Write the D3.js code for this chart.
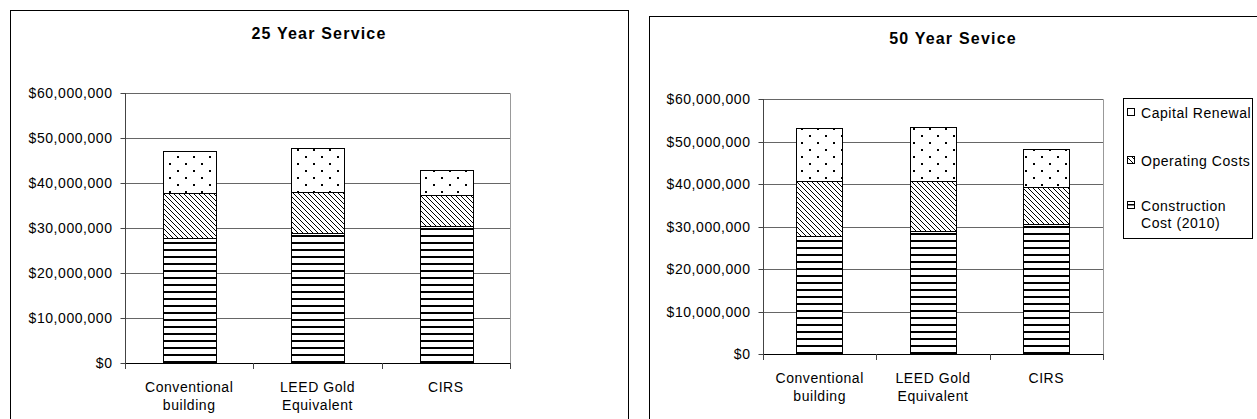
<!DOCTYPE html>
<html><head><meta charset="utf-8">
<script src="https://cdn.jsdelivr.net/npm/d3@7"></script>
<style>
body{margin:0;background:#fff}
svg text{font-family:"Liberation Sans",Arial,sans-serif;fill:#000}
</style>
</head><body>
<svg id="c" width="1257" height="419"></svg>
<script>
// ---- data ----
const categories = [["Conventional","building"],["LEED Gold","Equivalent"],["CIRS"]];
const seriesNames = ["Construction Cost (2010)","Operating Costs","Capital Renewal"];
const legendLabels = [["Capital Renewal"],["Operating Costs"],["Construction","Cost (2010)"]];
const construction25 = [27.8e6, 28.9e6, 30.5e6];
const operating25   = [10.0e6, 9.1e6, 6.8e6];
const capital25     = [9.3e6, 9.7e6, 5.6e6];
const construction50 = [27.8e6, 28.9e6, 30.5e6];
const operating50   = [12.8e6, 11.8e6, 8.8e6];
const capital50     = [12.5e6, 12.7e6, 9.0e6];
const yTicks = [0, 10e6, 20e6, 30e6, 40e6, 50e6, 60e6];
const titles = ["25 Year Service", "50 Year Sevice"];

const svg = d3.select("#c");
const defs = svg.append("defs");
const fmt = d3.format("$,");
const FS = "14px", LS = "0.55px";

function makePatterns(id, baseY){
  const h = defs.append("pattern").attr("id","hl"+id).attr("patternUnits","userSpaceOnUse")
    .attr("width",8).attr("height",7).attr("patternTransform",`translate(0,${baseY%7})`);
  h.append("rect").attr("width",8).attr("height",7).attr("fill","#fff");
  h.append("rect").attr("y",5).attr("width",8).attr("height",2).attr("fill","#000");
  const d = defs.append("pattern").attr("id","dg"+id).attr("patternUnits","userSpaceOnUse")
    .attr("width",5).attr("height",5);
  d.append("rect").attr("width",5).attr("height",5).attr("fill","#fff");
  [0,1,2,3,4].forEach(i=>d.append("rect").attr("x",i).attr("y",i).attr("width",1).attr("height",1).attr("fill","#000"));
  const p = defs.append("pattern").attr("id","dt"+id).attr("patternUnits","userSpaceOnUse")
    .attr("width",16).attr("height",14).attr("patternTransform","translate(1,2)");
  p.append("rect").attr("width",16).attr("height",14).attr("fill","#fff");
  p.append("rect").attr("x",0).attr("y",0).attr("width",2).attr("height",2).attr("fill","#000");
  p.append("rect").attr("x",8).attr("y",7).attr("width",2).attr("height",2).attr("fill","#000");
}

function drawChart(cfg){
  const {id, frame, plot, title, titlePos, series} = cfg;
  makePatterns(id, plot.y1);
  const g = svg.append("g");
  g.append("rect").attr("x",frame.x+0.5).attr("y",frame.y+0.5).attr("width",frame.w).attr("height",frame.h)
    .attr("fill","#fff").attr("stroke","#000").attr("stroke-width",1);
  g.append("text").attr("x",titlePos[0]).attr("y",titlePos[1]).attr("text-anchor","middle")
    .style("font-size","16px").style("font-weight","bold").style("letter-spacing","1.2px").text(title);

  const x = d3.scaleBand().domain(d3.range(categories.length)).range([plot.x0, plot.x1])
    .paddingInner(0.59).paddingOuter(0.295);
  const y = d3.scaleLinear().domain([0, 60e6]).range([plot.y1, plot.y0]);

  g.append("path").attr("d",`M${plot.x0},${plot.y0+0.5}H${plot.x1+0.5}V${plot.y1}`)
    .attr("fill","none").attr("stroke","#999");
  g.selectAll(".grid").data(yTicks.slice(1)).enter().append("line")
    .attr("x1",plot.x0).attr("x2",plot.x1).attr("y1",d=>Math.round(y(d))+0.5).attr("y2",d=>Math.round(y(d))+0.5)
    .attr("stroke","#666");

  const fills = ["hl"+id, "dg"+id, "dt"+id];
  const stackData = categories.map((c,i)=>({i, a:series[0][i], b:series[1][i], c:series[2][i]}));
  const stack = d3.stack().keys(["a","b","c"])(stackData);
  stack.forEach((layer,k)=>{
    g.selectAll(".s"+k).data(layer).enter().append("rect")
      .attr("x",d=>Math.round(x(d.data.i))+0.5)
      .attr("width",Math.round(x.bandwidth()))
      .attr("y",d=>Math.round(y(d[1]))+0.5)
      .attr("height",d=>Math.round(y(d[0]))-Math.round(y(d[1])))
      .attr("fill",`url(#${fills[k]})`)
      .attr("stroke", "#000").attr("stroke-width",1);
  });

  const ya = g.append("g").attr("transform",`translate(${plot.x0+0.5},0)`)
    .call(d3.axisLeft(y).tickValues(yTicks).tickFormat(fmt).tickSize(5).tickPadding(8));
  ya.select(".domain").attr("stroke","#444").attr("d",`M0,${plot.y0}V${plot.y1+0.5}`);
  ya.selectAll(".tick line").attr("stroke","#444");
  ya.selectAll(".tick").attr("transform",d=>`translate(0,${Math.round(y(d))+0.5})`);
  ya.selectAll("text").style("font-size",FS).style("letter-spacing",LS)
    .style("font-family","'Liberation Sans',Arial,sans-serif").attr("fill","#000");

  g.append("line").attr("x1",plot.x0).attr("x2",plot.x1+1).attr("y1",plot.y1+0.5).attr("y2",plot.y1+0.5).attr("stroke","#000");
  const bounds = d3.range(categories.length+1).map(i=>plot.x0 + i*x.step());
  g.selectAll(".xt").data(bounds).enter().append("line")
    .attr("x1",d=>Math.round(d)+0.5).attr("x2",d=>Math.round(d)+0.5)
    .attr("y1",plot.y1).attr("y2",plot.y1+6).attr("stroke","#444");
  const lbl = g.selectAll(".xl").data(categories).enter().append("text")
    .attr("text-anchor","middle").style("font-size",FS).style("letter-spacing",LS)
    .attr("transform",(d,i)=>`translate(${x(i)+x.bandwidth()/2},${plot.y1+29})`);
  lbl.selectAll("tspan").data(d=>d).enter().append("tspan")
    .attr("x",0).attr("dy",(d,j)=>j===0?0:18).text(d=>d);

  return {x,y};
}

drawChart({id:"a", frame:{x:10,y:10,w:618,h:430}, plot:{x0:125,x1:510,y0:93,y1:363},
  title:titles[0], titlePos:[319,39], series:[construction25, operating25, capital25]});
drawChart({id:"b", frame:{x:649,y:16,w:640,h:430}, plot:{x0:763,x1:1103,y0:99,y1:354},
  title:titles[1], titlePos:[953,44], series:[construction50, operating50, capital50]});

// legend
const lg = svg.append("g");
lg.append("rect").attr("x",1123.5).attr("y",98.5).attr("width",129).attr("height",140)
  .attr("fill","#fff").attr("stroke","#000");
const legFills = ["dtb","dgb","hlb"];
const legY = [113, 161, 206];
legendLabels.forEach((lines,i)=>{
  const sy = legY[i];
  if(i===2){
    lg.append("rect").attr("x",1127.5).attr("y",sy-4.5).attr("width",7).attr("height",7).attr("fill","#fff").attr("stroke","#000");
    lg.append("rect").attr("x",1128).attr("y",sy-2).attr("width",7).attr("height",1.5).attr("fill","#000");
  } else {
    lg.append("rect").attr("x",1127.5).attr("y",sy-4.5).attr("width",7).attr("height",7)
      .attr("fill",`url(#${legFills[i]})`).attr("stroke","#000");
  }
  const t = lg.append("text").attr("x",1141).attr("y",sy+5).style("font-size",FS).style("letter-spacing",LS);
  lines.forEach((l,j)=>t.append("tspan").attr("x",1141).attr("dy",j===0?0:17).text(l));
});
</script>
</body></html>
